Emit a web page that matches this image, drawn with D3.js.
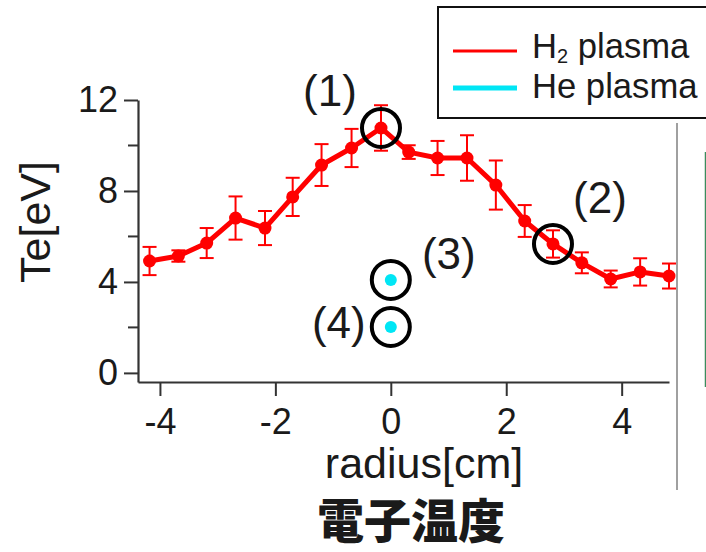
<!DOCTYPE html>
<html>
<head>
<meta charset="utf-8">
<script src="https://cdn.jsdelivr.net/npm/d3@7/dist/d3.min.js"></script>
<style>
  html, body { margin: 0; padding: 0; background: #fff; }
  svg { display: block; }
  text { font-family: "Liberation Sans", Arial, Helvetica, sans-serif; fill: #1a1a1a; }
</style>
</head>
<body>
<svg id="chart" width="706" height="552"></svg>
<script>
// Electron temperature profile across the radius
const radius = [-4.18, -3.68, -3.19, -2.69, -2.18, -1.70, -1.20, -0.68, -0.17,
                 0.31, 0.81, 1.32, 1.82, 2.32, 2.81, 3.31, 3.81, 4.32, 4.82];
const teH2   = [4.92, 5.14, 5.71, 6.81, 6.37, 7.74, 9.14, 9.89, 10.77,
                9.71, 9.45, 9.45, 8.26, 6.68, 5.67, 4.84, 4.13, 4.44, 4.26];
const errH2  = [0.62, 0.25, 0.66, 0.95, 0.75, 0.84, 0.92, 0.84, 1.0,
                0.3, 0.75, 1.0, 1.08, 0.7, 0.6, 0.46, 0.37, 0.6, 0.55];
const heRadius = [0, 0];
const teHe     = [4.09, 2.02];

const xTicks = [-4, -2, 0, 2, 4];
const yMajor = [0, 4, 8, 12];
const yMinor = [2, 6, 10];
const seriesNames = ["H2 plasma", "He plasma"];
const markLabels = ["(1)", "(2)", "(3)", "(4)"];
const xTitle = "radius[cm]";
const yTitle = "Te[eV]";
const title = "電子温度";

const RED = "#ff0000";
const CYAN = "#00e6f5";
const AXIS = "#333";

const svg = d3.select("#chart");

const x = d3.scaleLinear().domain([-4.38, 4.82]).range([138, 669]);
const y = d3.scaleLinear().domain([-0.4, 12]).range([382, 100]);

// frame lines at the right
svg.append("line").attr("x1", 677).attr("x2", 677).attr("y1", 123).attr("y2", 490)
  .attr("stroke", "#a0a0a0").attr("stroke-width", 2);
svg.append("line").attr("x1", 705.5).attr("x2", 705.5).attr("y1", 152).attr("y2", 387)
  .attr("stroke", "#3c8c5e").attr("stroke-width", 1.5);

// x axis
const gx = svg.append("g").attr("transform", `translate(0,${y.range()[0]})`)
  .call(d3.axisBottom(x).tickValues(xTicks).tickSize(14).tickSizeOuter(0).tickPadding(12)
        .tickFormat(d => d < 0 ? "-" + Math.abs(d) : d));
gx.select(".domain").attr("stroke", AXIS).attr("stroke-width", 2.2);
gx.selectAll(".tick line").attr("stroke", AXIS).attr("stroke-width", 2);
gx.selectAll(".tick text").attr("font-size", 36).attr("font-family", null).attr("fill", "#1a1a1a");

// y axis
const gy = svg.append("g").attr("transform", `translate(${x.range()[0]},0)`)
  .call(d3.axisLeft(y).tickValues(yMajor).tickSize(14).tickSizeOuter(0).tickPadding(6));
gy.select(".domain").attr("stroke", AXIS).attr("stroke-width", 2.2);
gy.selectAll(".tick line").attr("stroke", AXIS).attr("stroke-width", 2);
gy.selectAll(".tick text").attr("font-size", 36).attr("font-family", null).attr("fill", "#1a1a1a");
gy.selectAll(".minor").data(yMinor).enter().append("line").attr("class", "minor")
  .attr("x1", -10).attr("x2", 0).attr("y1", d => y(d)).attr("y2", d => y(d))
  .attr("stroke", AXIS).attr("stroke-width", 2);

// axis titles
svg.append("text").attr("transform", `translate(50,222) rotate(-90)`)
  .attr("text-anchor", "middle").attr("font-size", 43).text(yTitle);
svg.append("text").attr("x", 424).attr("y", 478)
  .attr("text-anchor", "middle").attr("font-size", 43).text(xTitle);

// H2 series: error bars, line, points
const h2 = radius.map((r, i) => ({ r, t: teH2[i], e: errH2[i] }));
const eb = svg.append("g").attr("stroke", RED).attr("stroke-width", 2);
eb.selectAll(".bar").data(h2).enter().append("line")
  .attr("x1", d => x(d.r)).attr("x2", d => x(d.r))
  .attr("y1", d => y(d.t - d.e)).attr("y2", d => y(d.t + d.e));
eb.selectAll(".capTop").data(h2).enter().append("line")
  .attr("x1", d => x(d.r) - 7).attr("x2", d => x(d.r) + 7)
  .attr("y1", d => y(d.t + d.e)).attr("y2", d => y(d.t + d.e));
eb.selectAll(".capBot").data(h2).enter().append("line")
  .attr("x1", d => x(d.r) - 7).attr("x2", d => x(d.r) + 7)
  .attr("y1", d => y(d.t - d.e)).attr("y2", d => y(d.t - d.e));

svg.append("path").datum(h2)
  .attr("d", d3.line().x(d => x(d.r)).y(d => y(d.t)))
  .attr("fill", "none").attr("stroke", RED).attr("stroke-width", 5).attr("stroke-linejoin", "round");
svg.append("g").selectAll("circle").data(h2).enter().append("circle")
  .attr("cx", d => x(d.r)).attr("cy", d => y(d.t)).attr("r", 6.5).attr("fill", RED);

// He points
const he = heRadius.map((r, i) => ({ r, t: teHe[i] }));
svg.append("g").selectAll("circle").data(he).enter().append("circle")
  .attr("cx", d => x(d.r)).attr("cy", d => y(d.t)).attr("r", 6).attr("fill", CYAN);

// highlighted measurement points with their labels
const marked = [
  { p: h2[8], dx: -51, dy: -22 },
  { p: h2[14], dx: 47, dy: -31 },
  { p: he[0], dx: 58, dy: -11 },
  { p: he[1], dx: -52, dy: 11 }
];
marked.forEach((m, i) => {
  const cx = x(m.p.r), cy = y(m.p.t);
  svg.append("circle").attr("cx", cx).attr("cy", cy).attr("r", 19)
    .attr("fill", "none").attr("stroke", "#000").attr("stroke-width", 4);
  svg.append("text").attr("x", cx + m.dx).attr("y", cy + m.dy)
    .attr("text-anchor", "middle").attr("font-size", 44).text(markLabels[i]);
});

// legend
const lg = svg.append("g");
lg.append("rect").attr("x", 438).attr("y", 7).attr("width", 300).attr("height", 111)
  .attr("fill", "#fff").attr("stroke", "#111").attr("stroke-width", 2);
const legendRows = [
  { name: seriesNames[0], color: RED, w: 3, ly: 51, ty: 58 },
  { name: seriesNames[1], color: CYAN, w: 5, ly: 88, ty: 98 }
];
legendRows.forEach(row => {
  lg.append("line").attr("x1", 453).attr("x2", 517).attr("y1", row.ly).attr("y2", row.ly)
    .attr("stroke", row.color).attr("stroke-width", row.w);
  const t = lg.append("text").attr("x", 532).attr("y", row.ty).attr("font-size", 33)
    .attr("transform", `translate(532,${row.ty}) scale(1.05,1.08) translate(-532,${-row.ty})`);
  if (row.name.startsWith("H2")) {
    t.append("tspan").text("H");
    t.append("tspan").attr("font-size", 19).attr("dy", 5).text("2");
    t.append("tspan").attr("dy", -5).text(row.name.slice(2));
  } else {
    t.text(row.name);
  }
});

// title
svg.append("text").attr("x", 411).attr("y", 538).attr("text-anchor", "middle")
  .attr("font-size", 47).attr("font-weight", 900)
  .style("font-family", '"Noto Sans CJK JP", "Noto Sans CJK SC", sans-serif')
  .text(title);
</script>
</body>
</html>
